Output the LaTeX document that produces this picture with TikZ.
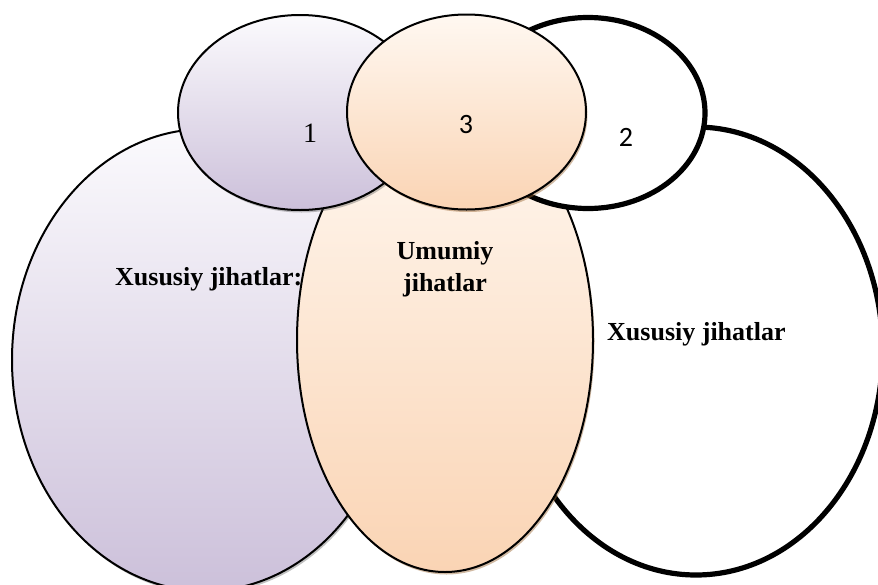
\documentclass[tikz,border=0pt]{standalone}
\usepackage{fontspec}
\setmainfont{Liberation Serif}
\newfontfamily\calib{Carlito}
\usetikzlibrary{shapes.geometric,shadows}
\definecolor{lavtop}{HTML}{FBFAFD}
\definecolor{lavbot}{HTML}{CCC0DA}
\definecolor{ortop}{HTML}{FFF8F1}
\definecolor{orbot}{HTML}{FAD4B4}
\tikzset{
  blob/.style={ellipse, draw=black, inner sep=0pt, outer sep=0pt},
  thinline/.style={line width=2pt},
  thickline/.style={line width=5.2pt, fill=white},
  lav/.style={top color=lavtop, bottom color=lavbot,
    drop shadow={shadow xshift=1.5pt, shadow yshift=-2.5pt, opacity=0.35, fill=black!70}},
  ora/.style={top color=ortop, bottom color=orbot,
    drop shadow={shadow xshift=1.5pt, shadow yshift=-2.5pt, opacity=0.45, fill=brown!80!black}},
  lbl/.style={font=\bfseries\fontsize{26}{32}\selectfont, inner sep=0pt, align=center},
  numserif/.style={font=\fontsize{28}{30}\selectfont, inner sep=0pt},
  numsans/.style={font=\calib\fontsize{28}{30}\selectfont, inner sep=0pt}
}
\begin{document}
\begin{tikzpicture}[x=1pt,y=-1pt]
\clip (0,0) rectangle (878,584);
\fill[white] (0,0) rectangle (878,584);
% big left
\node[blob, lav, thinline, minimum width=386pt, minimum height=462pt] (bigL) at (205,360) {};
\node[lbl, anchor=base west] (tL) at (115,285) {Xususiy jihatlar:};
% big right
\node[blob, thickline, minimum width=373pt, minimum height=448pt] (bigR) at (696,351) {};
\node[lbl, anchor=base west] (tR) at (607,340) {Xususiy jihatlar};
% big middle
\node[blob, ora, thinline, minimum width=296pt, minimum height=464pt] (bigM) at (445,340) {};
\node[lbl] (tM) at (445,269) {Umumiy\\jihatlar};
% small left
\node[blob, lav, thinline, minimum width=244pt, minimum height=195pt] (smL) at (300,112.5) {};
\node[numserif, anchor=base] (t1) at (310,142) {1};
% small right
\node[blob, thickline, minimum width=234pt, minimum height=191pt] (smR) at (588,113) {};
\node[numsans, anchor=base] (t2) at (626,146) {2};
% small middle
\node[blob, ora, thinline, minimum width=239pt, minimum height=195pt] (smM) at (466.5,112) {};
\node[numsans, anchor=base] (t3) at (466,133) {3};
\end{tikzpicture}
\end{document}
